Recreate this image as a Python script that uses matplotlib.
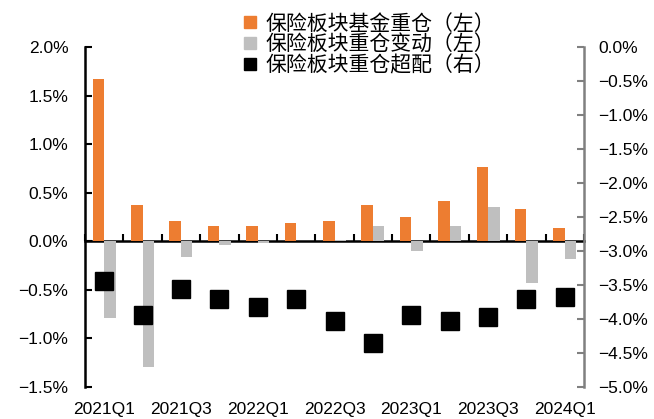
import matplotlib
matplotlib.use("Agg")
import matplotlib.pyplot as plt
from matplotlib.lines import Line2D
import numpy as np

quarters = ["2021Q1", "2021Q2", "2021Q3", "2021Q4", "2022Q1", "2022Q2", "2022Q3",
            "2022Q4", "2023Q1", "2023Q2", "2023Q3", "2023Q4", "2024Q1"]
fund_weight = [1.67, 0.37, 0.21, 0.16, 0.16, 0.185, 0.21, 0.37, 0.25, 0.41, 0.76, 0.33, 0.14]
weight_change = [-0.79, -1.29, -0.165, -0.04, -0.02, 0.005, 0.01, 0.16, -0.10, 0.16, 0.35, -0.43, -0.18]
overweight = [-3.44, -3.94, -3.56, -3.71, -3.82, -3.71, -4.03, -4.35, -3.94, -4.03, -3.97, -3.71, -3.68]

legend_labels = ["保险板块基金重仓（左）", "保险板块重仓变动（左）", "保险板块重仓超配（右）"]

ORANGE = "#ED7D31"
GRAY = "#BFBFBF"
tick_font = "Liberation Sans"
TICK_SIZE = 12.5

fig = plt.figure(figsize=(6.54, 4.19), dpi=100)
ax = fig.add_axes([0.130, 0.0764, 0.763, 0.8115])

x = np.arange(len(quarters))
w = 0.3
ax.bar(x - w / 2, fund_weight, width=w, color=ORANGE, zorder=2)
ax.bar(x + w / 2, weight_change, width=w, color=GRAY, zorder=2)

ymin, ymax = -1.5, 2.0
ax.set_ylim(ymin, ymax)
ax.set_xlim(-0.5, len(quarters) - 0.5)
yt = np.arange(-1.5, 2.01, 0.5)
ax.set_yticks(yt)
ax.set_yticklabels([f"{v:.1f}%".replace("-", "\u2212") for v in yt],
                   fontfamily=tick_font, fontsize=TICK_SIZE)
ax.tick_params(axis="y", direction="in", length=5, width=1.5, color="black", pad=12)

ax.set_xticks(x[::2])
ax.set_xticklabels(quarters[::2], fontfamily=tick_font, fontsize=TICK_SIZE)
ax.tick_params(axis="x", length=0, pad=11)

for s in ["top", "right", "bottom"]:
    ax.spines[s].set_visible(False)
ax.spines["left"].set_linewidth(1.8)
ax.spines["left"].set_color("black")

# zero line axis with boundary ticks
zero_frac = (0 - ymin) / (ymax - ymin)
sec = ax.secondary_xaxis(zero_frac)
sec.set_xticks(np.arange(-0.5, len(quarters), 1.0))
sec.tick_params(direction="in", length=5, width=1.5, labelbottom=False, color="black")
sec.spines["bottom"].set_linewidth(1.8)
sec.spines["bottom"].set_color("black")

ax2 = ax.twinx()
ax2.plot(x, overweight, linestyle="none", marker="s", markersize=13,
         color="black", zorder=3)
ax2.set_ylim(-5.0, 0.0)
yt2 = np.arange(-5.0, 0.01, 0.5)
ax2.set_yticks(yt2)
ax2.set_yticklabels([f"{v:.1f}%".replace("-", "\u2212") for v in yt2],
                    fontfamily=tick_font, fontsize=TICK_SIZE)
ax2.tick_params(axis="y", direction="in", length=5, width=1.5, color="#808080", pad=10)
for s in ["top", "left", "bottom"]:
    ax2.spines[s].set_visible(False)
ax2.spines["right"].set_color("#808080")
ax2.spines["right"].set_linewidth(1.8)

handles = [
    Line2D([], [], linestyle="none", marker="s", markersize=8, color=ORANGE),
    Line2D([], [], linestyle="none", marker="s", markersize=8, color=GRAY),
    Line2D([], [], linestyle="none", marker="s", markersize=8, color="black"),
]
fig.legend(handles, legend_labels, loc="upper left", bbox_to_anchor=(0.347, 1.01),
           frameon=False, prop={"family": ["Noto Sans CJK SC", "DejaVu Sans"], "size": 15},
           handlelength=0.6, handletextpad=0.45, labelspacing=-0.05, borderpad=0.3)

fig.savefig("out.png", dpi=100)
